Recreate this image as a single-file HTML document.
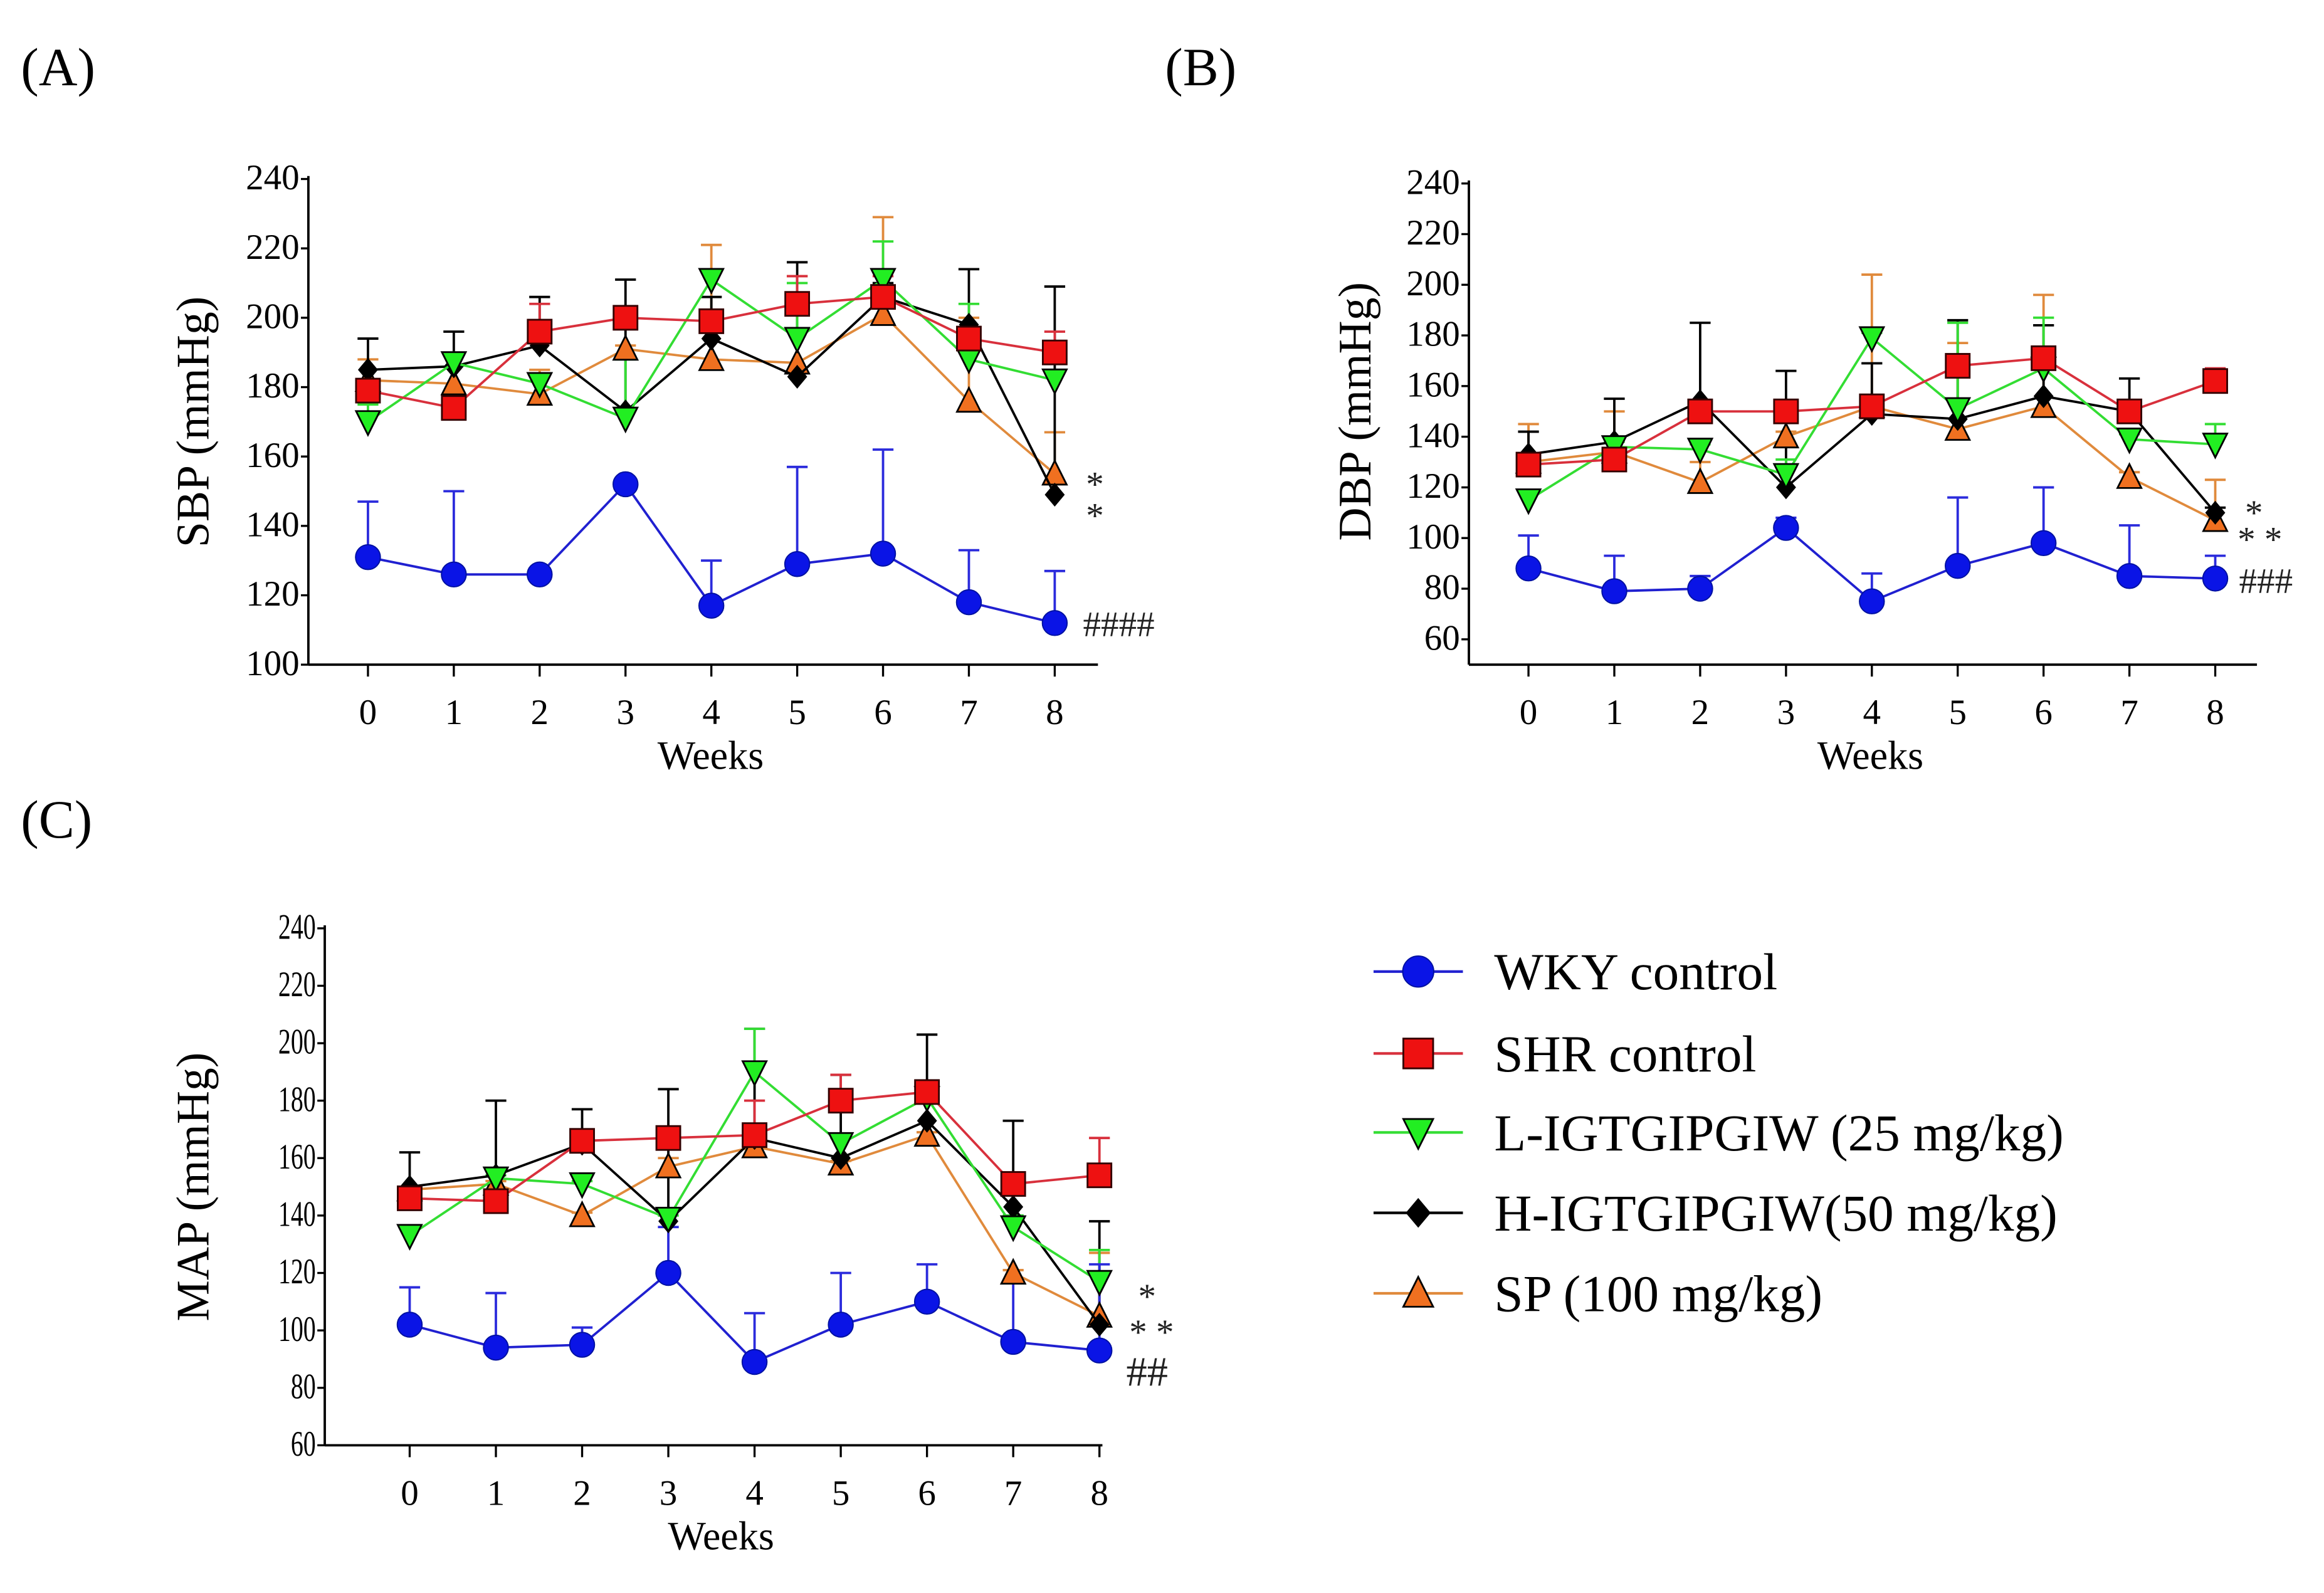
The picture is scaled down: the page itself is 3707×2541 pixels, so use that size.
<!DOCTYPE html>
<html><head><meta charset="utf-8"><style>
html,body{margin:0;padding:0;background:#fff;}
svg{display:block;font-family:"Liberation Serif",serif;}
</style></head><body>
<svg id="fig" width="3707" height="2541" viewBox="0 0 1560 1069" xmlns="http://www.w3.org/2000/svg"></svg>
<script>
const weeks=[0,1,2,3,4,5,6,7,8];
const seriesNames=["WKY control","SHR control","L-IGTGIPGIW (25 mg/kg)","H-IGTGIPGIW(50 mg/kg)","SP (100 mg/kg)"];
// SBP
const sbpWKY=[131,126,126,152,117,129,132,118,112];
const sbpWKYErr=[147,150,127,152,130,157,162,133,127];
const sbpSHR=[179,174,196,200,199,204,206,194,190];
const sbpSHRErr=[181,176,204,200,200,212,212,196,196];
const sbpL=[170,187,181,171,211,194,211,188,182];
const sbpLErr=[175,189,183,188,213,210,222,204,184];
const sbpH=[185,186,192,173,194,183,206,198,149];
const sbpHErr=[194,196,206,211,206,216,210,214,209];
const sbpSP=[182,181,178,191,188,187,201,176,155];
const sbpSPErr=[188,189,185,192,221,212,229,200,167];
// DBP
const dbpWKY=[88,79,80,104,75,89,98,85,84];
const dbpWKYErr=[101,93,85,108,86,116,120,105,93];
const dbpSHR=[129,131,150,150,152,168,171,150,162];
const dbpSHRErr=[131,133,153,151,153,170,173,152,167];
const dbpL=[115,136,135,125,179,151,167,139,137];
const dbpLErr=[118,138,137,131,181,185,187,141,145];
const dbpH=[133,138,154,120,149,147,156,150,110];
const dbpHErr=[142,155,185,166,169,186,184,163,112];
const dbpSP=[130,134,122,140,152,143,152,124,107];
const dbpSPErr=[145,150,130,142,204,177,196,126,123];
// MAP
const mapWKY=[102,94,95,120,89,102,110,96,93];
const mapWKYErr=[115,113,101,136,106,120,123,117,123];
const mapSHR=[146,145,166,167,168,180,183,151,154];
const mapSHRErr=[150,148,170,170,180,189,187,154,167];
const mapL=[133,153,151,139,190,165,181,136,117];
const mapLErr=[136,154,152,140,205,167,186,140,128];
const mapH=[150,154,165,138,167,160,173,143,102];
const mapHErr=[162,180,177,184,205,189,203,173,138];
const mapSP=[149,151,140,157,164,158,168,120,105];
const mapSPErr=[150,152,141,160,165,159,169,121,127];
const sbpTicks=[100,120,140,160,180,200,220,240];
const dbpTicks=[60,80,100,120,140,160,180,200,220,240];
const mapTicks=[60,80,100,120,140,160,180,200,220,240];

const NS="http://www.w3.org/2000/svg";
const svg=document.getElementById('fig');
function mk(tag,attrs,parent,text){const e=document.createElementNS(NS,tag);for(const k in attrs)e.setAttribute(k,attrs[k]);if(text!==undefined)e.textContent=text;(parent||svg).appendChild(e);return e;}
const styles=[
 {line:"#2020d0",fill:"#0a14e6",err:"#2b2bdc",shape:"circle"},
 {line:"#d8303c",fill:"#ee1111",err:"#d8303c",shape:"square"},
 {line:"#33dd33",fill:"#22ee22",err:"#33dd33",shape:"down"},
 {line:"#000",fill:"#000",err:"#000",shape:"diamond"},
 {line:"#e08a3c",fill:"#f07020",err:"#e08a3c",shape:"up"}];
function marker(g,shape,x,y,st,sz){
 let e;
 if(shape==="circle")e=mk('circle',{cx:x,cy:y,r:sz*0.52,fill:st.fill,stroke:"#0010a0","stroke-width":0.8},g);
 else if(shape==="square")e=mk('rect',{x:x-sz/2,y:y-sz/2,width:sz,height:sz,fill:st.fill,stroke:"#300","stroke-width":1.2},g);
 else if(shape==="down")e=mk('polygon',{points:`${x-sz*0.5},${y-sz*0.45} ${x+sz*0.5},${y-sz*0.45} ${x},${y+sz*0.55}`,fill:st.fill,stroke:"#000","stroke-width":1.2},g);
 else if(shape==="up")e=mk('polygon',{points:`${x-sz*0.5},${y+sz*0.45} ${x+sz*0.5},${y+sz*0.45} ${x},${y-sz*0.55}`,fill:st.fill,stroke:"#000","stroke-width":1.2},g);
 else e=mk('polygon',{points:`${x},${y-sz*0.5} ${x+sz*0.42},${y} ${x},${y+sz*0.5} ${x-sz*0.42},${y}`,fill:"#000"},g);
 return e;
}
function panel(cfg){
 const g=mk('g',{});
 
 
 const ymin=cfg.ticks[0],ymax=cfg.ticks[cfg.ticks.length-1];
 const Y=v=>cfg.yBot-(v-ymin)/(ymax-ymin)*(cfg.yBot-cfg.yTop);
 const X=w=>cfg.x0+w*(cfg.x8-cfg.x0)/8;
 const aB=cfg.axBot||cfg.yBot;
 const ax=mk('line',{x1:cfg.axX,y1:cfg.yTop-2,x2:cfg.axX,y2:aB,stroke:"#000","stroke-width":1.6},g);
 
 const bx=mk('line',{x1:cfg.axX,y1:aB,x2:cfg.axEnd,y2:aB,stroke:"#000","stroke-width":1.6},g);
 
 cfg.ticks.forEach(t=>{
  mk('line',{x1:cfg.axX-5,y1:Y(t),x2:cfg.axX,y2:Y(t),stroke:"#000","stroke-width":1.4},g);
  const tl=mk('text',{x:cfg.axX-6,y:Y(t)+7,"text-anchor":"end","font-size":cfg.tf,transform:cfg.cond?`translate(${cfg.axX-6},${Y(t)}) scale(0.7,1) translate(${-(cfg.axX-6)},${-Y(t)})`:""},g,String(t));
  
 });
 weeks.forEach(w=>{
  mk('line',{x1:X(w),y1:aB,x2:X(w),y2:aB+8,stroke:"#000","stroke-width":1.4},g);
  const tl=mk('text',{x:X(w),y:aB+40,"text-anchor":"middle","font-size":cfg.tf},g,String(w));
  
 });
 const xt=mk('text',{x:(cfg.axX+cfg.axEnd)/2+5,y:aB+70,"text-anchor":"middle","font-size":27},g,"Weeks");
 
 const yc=(cfg.yTop+cfg.yBot)/2;
 const yt=mk('text',{x:cfg.ylx,y:yc,"text-anchor":"middle","font-size":31,transform:`rotate(-90 ${cfg.ylx} ${yc})`},g,cfg.ylabel);
 
 const pl=mk('text',{x:cfg.plx,y:cfg.ply,"font-size":36},g,cfg.plabel);
 
 const order=[4,3,2,1,0];
 order.forEach(i=>{
  const st=styles[i],vals=cfg.data[i],errs=cfg.err[i];
  weeks.forEach((w,k)=>{
   mk('line',{x1:X(w),y1:Y(vals[k]),x2:X(w),y2:Y(errs[k]),stroke:st.err,"stroke-width":1.6},g);
   mk('line',{x1:X(w)-7,y1:Y(errs[k]),x2:X(w)+7,y2:Y(errs[k]),stroke:st.err,"stroke-width":1.6},g);
  });
 });
 order.forEach(i=>{
  const st=styles[i],vals=cfg.data[i];
  const ln=mk('polyline',{points:weeks.map((w,k)=>`${X(w)},${Y(vals[k])}`).join(' '),fill:"none",stroke:st.line,"stroke-width":1.6},g);
  
  weeks.forEach((w,k)=>{
   const m=marker(g,st.shape,X(w),Y(vals[k]),st,cfg.ms);
   
   
  });
 });
 cfg.ann.forEach(a=>{
  const t=mk('text',{x:a[0],y:a[1],"font-size":a[3]||24,fill:"#222"},g,a[2]);
  
 });
}
panel({name:'sbp-panel',plabel:'(A)',plx:14,ply:57,ylabel:'SBP (mmHg)',ylx:140,ticks:sbpTicks,axX:207,axEnd:737,yTop:120,yBot:446,x0:247,x8:708,tf:24,ms:16,
 data:[sbpWKY,sbpSHR,sbpL,sbpH,sbpSP],err:[sbpWKYErr,sbpSHRErr,sbpLErr,sbpHErr,sbpSPErr],
 ann:[[729,333,'*'],[729,354,'*'],[727,427,'####']]});
panel({name:'dbp-panel',plabel:'(B)',plx:782,ply:57,ylabel:'DBP (mmHg)',ylx:920,ticks:dbpTicks,axX:986,axEnd:1515,yTop:123,yBot:429,axBot:446,x0:1026,x8:1487,tf:24,ms:16,
 data:[dbpWKY,dbpSHR,dbpL,dbpH,dbpSP],err:[dbpWKYErr,dbpSHRErr,dbpLErr,dbpHErr,dbpSPErr],
 ann:[[1507,352,'*'],[1502,370,'* *'],[1503,398,'###']]});
panel({name:'map-panel',plabel:'(C)',plx:14,ply:562,ylabel:'MAP (mmHg)',ylx:140,ticks:mapTicks,axX:218,axEnd:740,yTop:623,yBot:970,x0:275,x8:738,tf:24,ms:16,cond:true,
 data:[mapWKY,mapSHR,mapL,mapH,mapSP],err:[mapWKYErr,mapSHRErr,mapLErr,mapHErr,mapSPErr],
 ann:[[764,878,'*'],[758,902,'* *'],[756,930,'##',28]]});
const lg=mk('g',{});


const legendY=[652,707,760,814,868];
seriesNames.forEach((n,i)=>{
 const st=styles[i];const y=legendY[i];
 const e=mk('g',{},lg);
 
 
 mk('line',{x1:922,y1:y,x2:982,y2:y,stroke:st.line,"stroke-width":1.8},e);
 marker(e,st.shape,952,y,st,20);
 mk('text',{x:1003,y:y+12,"font-size":35},e,n);
});
</script>
</body></html>
